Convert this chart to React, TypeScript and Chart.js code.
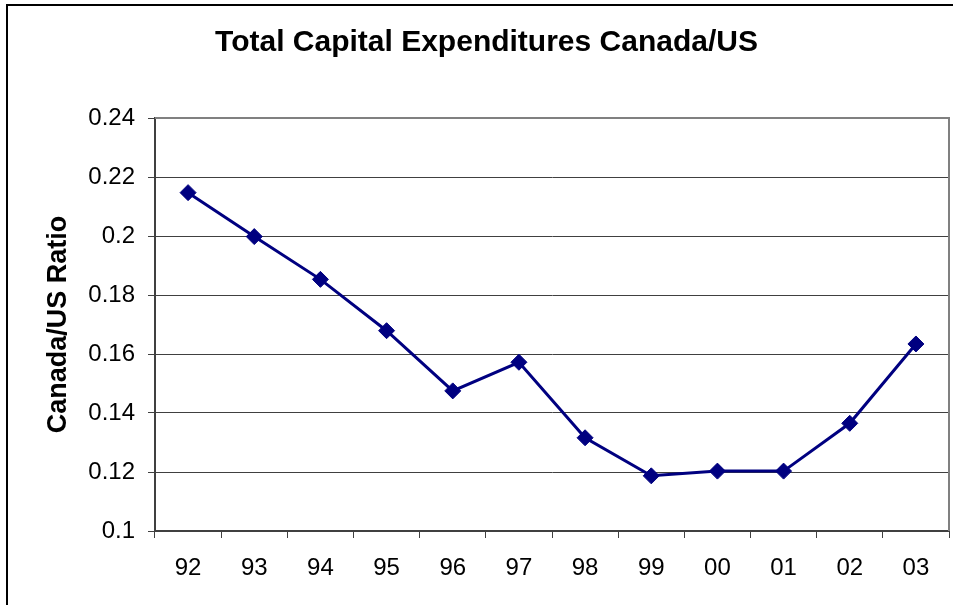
import React, { useEffect, useRef } from "react";
import { Chart, registerables } from "chart.js";

Chart.register(...registerables);

const categories = ["92", "93", "94", "95", "96", "97", "98", "99", "00", "01", "02", "03"];
const ratioValues = [0.2147, 0.1998, 0.1853, 0.1679, 0.1475, 0.1572, 0.1316, 0.1187, 0.1203, 0.1203, 0.1365, 0.1634];
const chartTitle = "Total Capital Expenditures Canada/US";
const yAxisTitle = "Canada/US Ratio";
const yMin = 0.1;
const yMax = 0.24;
const yStep = 0.02;

const FONT = "'Liberation Sans', Arial, Helvetica, sans-serif";

const plotBorder = {
  id: "plotBorder",
  afterDraw(chart: any) {
    const { ctx, chartArea } = chart;
    ctx.save();
    ctx.strokeStyle = "#808080";
    ctx.lineWidth = 2;
    ctx.beginPath();
    ctx.moveTo(chartArea.left, chartArea.top);
    ctx.lineTo(chartArea.right, chartArea.top);
    ctx.lineTo(chartArea.right, chartArea.bottom);
    ctx.stroke();
    ctx.restore();
  },
};

export default function App() {
  const ref = useRef<HTMLCanvasElement | null>(null);

  useEffect(() => {
    if (!ref.current) return;
    const chart = new Chart(ref.current, {
      type: "line",
      data: {
        labels: categories,
        datasets: [
          {
            data: ratioValues,
            borderColor: "#000080",
            backgroundColor: "#000080",
            borderWidth: 3,
            pointStyle: "rectRot",
            pointRadius: 8,
            pointBackgroundColor: "#000080",
            pointBorderColor: "#000080",
            pointBorderWidth: 1,
            tension: 0,
          },
        ],
      },
      options: {
        responsive: false,
        animation: false,
        devicePixelRatio: 1,
        layout: { autoPadding: false, padding: { left: 24, right: 4, top: 4, bottom: 0 } },
        plugins: {
          legend: { display: false },
          tooltip: { enabled: false },
          title: {
            display: true,
            text: chartTitle,
            color: "#000",
            font: { family: FONT, size: 30, weight: "bold" },
            padding: { top: 21, bottom: 57 },
          },
        },
        scales: {
          x: {
            type: "category",
            offset: true,
            grid: {
              offset: true,
              drawOnChartArea: false,
              drawTicks: true,
              tickLength: 7,
              color: "#404040",
              lineWidth: 1,
            },
            border: { display: true, color: "#404040", width: 2 },
            ticks: {
              color: "#000",
              font: { family: FONT, size: 24 },
              padding: 16,
              maxRotation: 0,
              autoSkip: false,
            },
            afterFit(scale: any) {
              scale.height = 74;
            },
          },
          y: {
            min: yMin,
            max: yMax,
            grid: {
              color: "#404040",
              lineWidth: 1,
              tickLength: 7,
              drawTicks: true,
            },
            border: { display: true, color: "#404040", width: 2 },
            ticks: {
              stepSize: yStep,
              color: "#000",
              font: { family: FONT, size: 24 },
              padding: 13,
              callback: (v: any) => String(+Number(v).toFixed(2)),
            },
            title: {
              display: true,
              text: yAxisTitle,
              color: "#000",
              font: { family: FONT, size: 27, weight: "bold" },
              padding: { top: 18, bottom: 0 },
            },
            afterFit(scale: any) {
              scale.width = 131;
            },
          },
        },
      },
      plugins: [plotBorder],
    });
    return () => chart.destroy();
  }, []);

  return (
    <div
      style={{
        position: "fixed",
        left: 0,
        top: 0,
        width: 953,
        height: 605,
        overflow: "hidden",
        background: "#fff",
      }}
    >
      <div
        style={{
          position: "absolute",
          left: 6,
          top: 4,
          width: 2000,
          height: 2000,
          border: "2px solid #000",
        }}
      />
      <canvas
        ref={ref}
        width={953}
        height={605}
        style={{ position: "absolute", left: 0, top: 0, width: 953, height: 605 }}
      />
    </div>
  );
}
